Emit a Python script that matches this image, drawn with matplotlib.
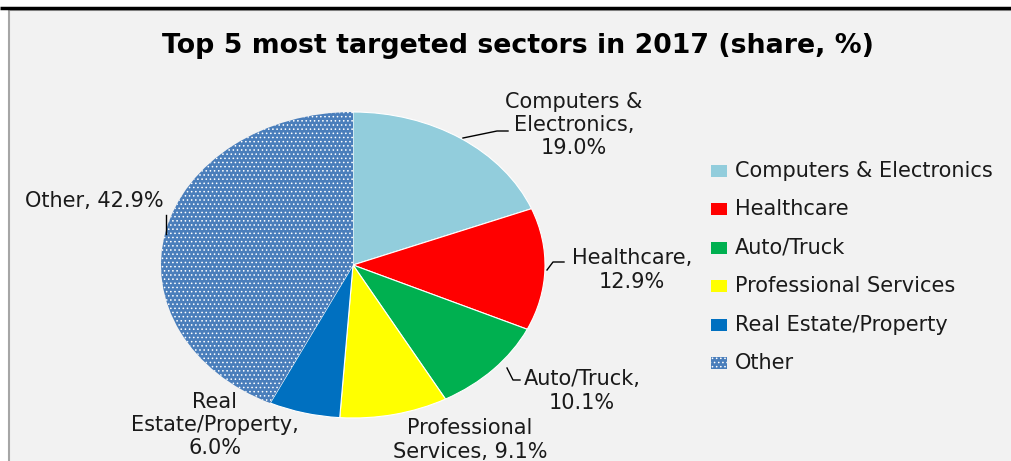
import numpy as np
import matplotlib.pyplot as plt
from matplotlib.patches import Rectangle

# data
sectors = ['Computers & Electronics', 'Healthcare', 'Auto/Truck',
           'Professional Services', 'Real Estate/Property', 'Other']
shares = [19.0, 12.9, 10.1, 9.1, 6.0, 42.9]
colors = ['#92CDDC', '#FF0000', '#00B050', '#FFFF00', '#0070C0', '#4A7EBB']
label_text = ['Computers &\nElectronics,\n{:.1f}%', 'Healthcare,\n{:.1f}%',
              'Auto/Truck,\n{:.1f}%', 'Professional\nServices, {:.1f}%',
              'Real\nEstate/Property,\n{:.1f}%', 'Other, {:.1f}%']

W, H = 1011, 461
plt.rcParams['font.family'] = ['DejaVu Sans']
plt.rcParams['hatch.linewidth'] = 0.6

fig = plt.figure(figsize=(W / 100, H / 100), dpi=100, facecolor='white')

# background panel
bg = fig.add_axes([0, 0, 1, 1], zorder=0)
bg.set_xlim(0, W)
bg.set_ylim(H, 0)
bg.axis('off')
bg.add_patch(Rectangle((9, 10.5), W, H, facecolor='#F2F2F2', edgecolor='#A6A6A6', lw=1.5))
bg.plot([0, W], [8, 8], color='black', lw=2.5, solid_capstyle='butt')

# pie (stretched like the original)
px0, px1, py0, py1 = 161, 545, 112, 418
pax = fig.add_axes([px0 / W, (H - py1) / H, (px1 - px0) / W, (py1 - py0) / H], zorder=1)
wedges, _ = pax.pie(shares, colors=colors, startangle=90, counterclock=False,
                    wedgeprops=dict(edgecolor='white', linewidth=0.8))
wedges[-1].set_hatch('....')
wedges[-1].set_edgecolor('white')
wedges[-1].set_linewidth(0)
pax.set_aspect('auto')
pax.set_xlim(-1, 1)
pax.set_ylim(-1, 1)

# labels, legend, title
ov = fig.add_axes([0, 0, 1, 1], zorder=2)
ov.set_xlim(0, W)
ov.set_ylim(H, 0)
ov.axis('off')
ov.patch.set_alpha(0)

ov.text(518, 46, 'Top 5 most targeted sectors in 2017 (share, %)', ha='center', va='center',
        fontsize=19.3, fontweight='bold', color='black')

lab_pos = [(574, 125), (632, 270), (582, 391), (470, 440), (215, 425), (94, 201)]
for txt, v, (x, y) in zip(label_text, shares, lab_pos):
    ov.text(x, y, txt.format(v), ha='center', va='center', fontsize=15,
            linespacing=1.2, color='#1a1a1a')

leaders = [([463, 497, 508], [138, 131, 131]),
           ([547, 553, 564], [270, 262, 262]),
           ([507, 513, 520], [368, 380, 380]),
           ([166, 166], [215, 234])]
for xs, ys in leaders:
    ov.plot(xs, ys, color='black', lw=1)

for i, (name, c) in enumerate(zip(sectors, colors)):
    y = 171 + i * 38.4
    r = Rectangle((711, y - 6), 16, 12, facecolor=c, edgecolor='white', lw=0)
    if name == 'Other':
        r.set_hatch('....')
    ov.add_patch(r)
    ov.text(735, y, name, ha='left', va='center', fontsize=15, color='#1a1a1a')

fig.savefig('out.png', dpi=100, facecolor='white')
